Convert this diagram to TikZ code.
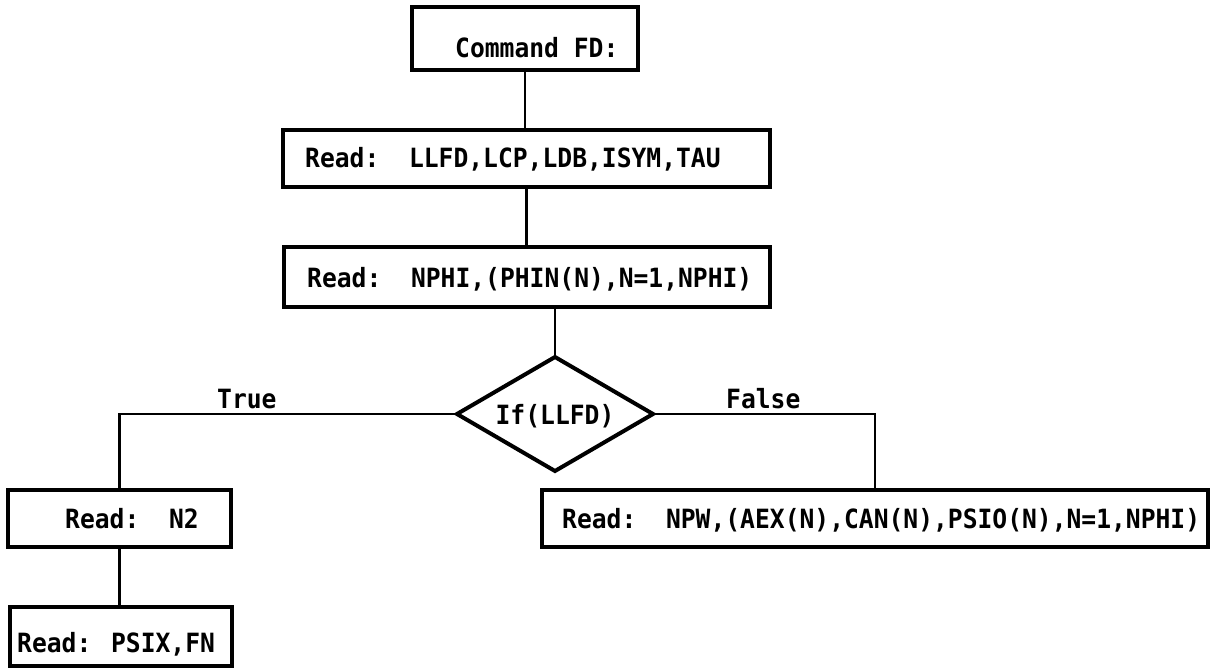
\documentclass[tikz,border=0pt]{standalone}
\usepackage{fontspec}
\newfontfamily\tw[FakeStretch=0.93]{DejaVu Sans Mono Bold}
\usetikzlibrary{shapes.geometric}
\begin{document}
\begin{tikzpicture}[x=1pt,y=-1pt,
  boxnode/.style={draw=black, line width=3.2pt, rectangle, outer sep=0pt, inner sep=0pt},
  decnode/.style={draw=black, line width=4pt, diamond, outer sep=0pt, inner sep=0pt,
     minimum width=196pt, minimum height=114pt, aspect=1.72},
  txt/.style={inner sep=0pt, anchor=base west, font=\tw\fontsize{26.5}{30}\selectfont},
  conn/.style={draw=black, line width=2.3pt}]
\useasboundingbox (0,0) rectangle (1214,669);
% boxes
\node[boxnode, minimum width=226pt, minimum height=63pt] (b1) at (525,38.5) {};
\node[boxnode, minimum width=487pt, minimum height=57pt] (b2) at (526.5,158.5) {};
\node[boxnode, minimum width=486pt, minimum height=60pt] (b3) at (527,277) {};
\node[decnode] (d) at (555,414) {};
\node[boxnode, minimum width=223pt, minimum height=57pt] (n2) at (119.5,518.5) {};
\node[boxnode, minimum width=222pt, minimum height=59pt] (ps) at (121,636.5) {};
\node[boxnode, minimum width=666pt, minimum height=57pt] (fb) at (875,518.5) {};
% texts
\node[txt] (t1) at (455,57) {Command FD:};
\node[txt] (t2) at (305,167) {Read:\ \ LLFD,LCP,LDB,ISYM,TAU};
\node[txt] (t3) at (307,287) {Read:\ \ NPHI,(PHIN(N),N=1,NPHI)};
\node[txt, anchor=center] (td) at (555,416) {If(LLFD)};
\node[txt] (tn2) at (65,528) {Read:\ \ N2};
\node[txt] (tps) at (17,652) {Read: PSIX,FN};
\node[txt] (tfb) at (562,528) {Read:\ \ NPW,(AEX(N),CAN(N),PSIO(N),N=1,NPHI)};
\node[txt] (ttrue) at (217,408) {True};
\node[txt] (tfalse) at (726,408) {False};
% connectors
\draw[conn] (b1.south) -- (b1.south |- b2.north);
\draw[conn] (b2.south) -- (b2.south |- b3.north);
\draw[conn] (b3.south -| d.north) -- (d.north);
\draw[conn] (d.west) -| (n2.north);
\draw[conn] (d.east) -| (fb.north);
\draw[conn] (n2.south) -- (n2.south |- ps.north);
\end{tikzpicture}
\end{document}
